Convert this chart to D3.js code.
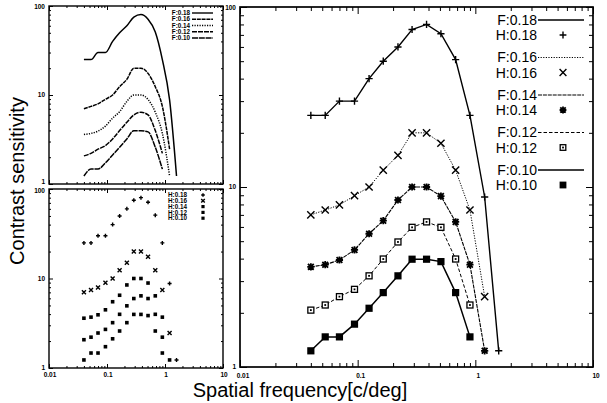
<!DOCTYPE html>
<html>
<head>
<meta charset="utf-8">
<script src="https://cdn.jsdelivr.net/npm/d3@7"></script>
<style>
  body { margin: 0; background: #fff; }
  svg { display: block; }
  text { font-family: "Liberation Sans", Arial, sans-serif; fill: #000; }
</style>
</head>
<body>
<svg width="607" height="403"></svg>
<script>
// spatial frequency samples [c/deg]
const freq = [0.04, 0.053, 0.07, 0.094, 0.125, 0.165, 0.22, 0.29, 0.385, 0.51, 0.68, 0.9, 1.2, 1.58];

// contrast sensitivity per condition (same values for F lines and H points)
const sens18 = [25, 25, 30, 30, 40, 50, 60, 75, 80, 71, 51, 25, 8.8, 1.23];
const sens16 = [7, 7.45, 7.95, 8.95, 10, 12.4, 15, 20, 20, 17.5, 12.4, 7.45, 2.46];
const sens14 = [3.6, 3.7, 3.93, 4.47, 5.5, 6.5, 8.47, 10, 10, 8.9, 6.4, 3.7, 1.23];
const sens12 = [2.07, 2.21, 2.46, 2.7, 3.21, 3.98, 4.95, 5.97, 6.4, 5.97, 3.98, 2.21];
const sens10 = [1.23, 1.47, 1.47, 1.73, 2.12, 2.59, 3.21, 3.97, 3.97, 3.85, 2.59, 1.47];

const levels = ["0.18", "0.16", "0.14", "0.12", "0.10"];
const xTickLabels = ["0.01", "0.1", "1", "10"];
const yTickLabels = ["1", "10", "100"];

const seriesValues = [sens18, sens16, sens14, sens12, sens10];
const series = levels.map((lv, i) => ({
  level: lv,
  points: seriesValues[i].map((v, j) => ({ f: freq[j], s: v }))
}));

const xDecades = xTickLabels.map(Number);
const yDecades = yTickLabels.map(Number);
const minorOf = dec => dec.slice(0, -1).flatMap(d => d3.range(2, 10).map(k => d * k));

// line styles and marker kinds, one per level
const dashes = [null, "1.2,1.4", "4,0.9", "3.5,2", null];
const widths = [1.4, 1, 1.1, 1, 1.5];
const smallDashes = [null, "4,0.8", "1.2,1.3", "5,1", "6,0.8"];
const markers = ["plus", "cross", "star", "boxdot", "square"];

const svg = d3.select("svg");

function marker(g, kind, cx, cy, r) {
  const p = d3.path();
  if (kind === "plus" || kind === "star") {
    p.moveTo(cx - r, cy); p.lineTo(cx + r, cy);
    p.moveTo(cx, cy - r); p.lineTo(cx, cy + r);
  }
  if (kind === "cross" || kind === "star") {
    const q = kind === "star" ? r * 0.8 : r;
    p.moveTo(cx - q, cy - q); p.lineTo(cx + q, cy + q);
    p.moveTo(cx - q, cy + q); p.lineTo(cx + q, cy - q);
  }
  if (kind === "plus" || kind === "cross" || kind === "star") {
    g.append("path").attr("d", p.toString()).attr("stroke", "#000")
      .attr("stroke-width", kind === "star" ? 1.8 : 1.4).attr("fill", "none");
    if (kind === "star") g.append("rect").attr("x", cx - r * 0.45).attr("y", cy - r * 0.45)
      .attr("width", r * 0.9).attr("height", r * 0.9).attr("fill", "#000");
  } else if (kind === "boxdot") {
    g.append("rect").attr("x", cx - r + 0.6).attr("y", cy - r + 0.6)
      .attr("width", 2 * r - 1.2).attr("height", 2 * r - 1.2)
      .attr("fill", "#fff").attr("stroke", "#000").attr("stroke-width", 1.3);
    g.append("rect").attr("x", cx - 0.9).attr("y", cy - 0.9).attr("width", 1.8).attr("height", 1.8).attr("fill", "#000");
  } else {
    g.append("rect").attr("x", cx - r).attr("y", cy - r).attr("width", 2 * r).attr("height", 2 * r).attr("fill", "#000");
  }
}

// log-log frame with inward ticks on all four sides
function frame(x, y, major, minor, sw) {
  const g = svg.append("g");
  const [x0, x1] = x.range(), [y0, y1] = y.range();
  const strip = s => s.call(a => a.select(".domain").remove()).call(a => a.selectAll("text").remove());
  const put = (axis, tx, ty, vals, len) => g.append("g")
    .attr("transform", `translate(${tx},${ty})`)
    .call(axis.tickValues(vals).tickSize(-len).tickFormat(""))
    .call(strip)
    .selectAll("line").attr("stroke", "#000").attr("stroke-width", 1);
  [[xDecades, major], [minorOf(xDecades), minor]].forEach(([v, l]) => {
    put(d3.axisBottom(x), 0, y0, v, l);
    put(d3.axisTop(x), 0, y1, v, l);
  });
  [[yDecades, major], [minorOf(yDecades), minor]].forEach(([v, l]) => {
    put(d3.axisLeft(y), x0, 0, v, l);
    put(d3.axisRight(y), x1, 0, v, l);
  });
  g.append("rect").attr("x", x0).attr("y", y1).attr("width", x1 - x0).attr("height", y0 - y1)
    .attr("fill", "none").attr("stroke", "#000").attr("stroke-width", sw);
  return g;
}

function yLabels(x, y, dx, shift) {
  svg.append("g").attr("transform", `translate(${x.range()[0] - dx},0)`)
    .selectAll("text").data(yDecades).join("text")
    .attr("y", d => y(d) + (shift[yDecades.indexOf(d)] || 0)).attr("dy", "0.35em").attr("text-anchor", "end")
    .attr("font-size", 6.5).attr("font-weight", "bold")
    .text((d, i) => yTickLabels[i]);
}

function xLabels(x, ty, dx) {
  svg.append("g").selectAll("text").data(xDecades).join("text")
    .attr("x", d => x(d) + dx).attr("y", ty).attr("text-anchor", "middle")
    .attr("font-size", 6.5).attr("font-weight", "bold")
    .text((d, i) => xTickLabels[i]);
}

const line = (x, y, curve) => d3.line().x(d => x(d.f)).y(d => y(d.s)).curve(curve);

// ---- left panels ----
const xs = d3.scaleLog().domain([0.01, 10]).range([49, 223]);
const yTop = d3.scaleLog().domain([1, 100]).range([184, 6]);
const yBot = d3.scaleLog().domain([1, 100]).range([368, 189]);

frame(xs, yTop, 4, 2, 1.4);
frame(xs, yBot, 4, 2, 1.4);
yLabels(xs, yTop, 4, [-2.5, 0, 1]);
yLabels(xs, yBot, 4, [0, 0, 1.5]);
xLabels(xs, 376.5, 1);

series.forEach((s, i) => {
  svg.append("path").datum(s.points)
    .attr("d", line(xs, yTop, d3.curveMonotoneX))
    .attr("fill", "none").attr("stroke", "#000")
    .attr("stroke-width", 1.5)
    .attr("stroke-dasharray", smallDashes[i]);
});

// small legend, top panel
series.forEach((s, i) => {
  const cy = 13 + i * 6.25;
  svg.append("text").attr("x", 190).attr("y", cy).attr("dy", "0.35em")
    .attr("text-anchor", "end").attr("font-size", 6.3).attr("font-weight", "bold")
    .text("F:" + s.level);
  svg.append("line").attr("x1", 192).attr("x2", 213).attr("y1", cy).attr("y2", cy)
    .attr("stroke", "#000").attr("stroke-width", 1.4).attr("stroke-dasharray", smallDashes[i]);
});

// small markers, bottom panel
const smallKind = k => (k === "boxdot" || k === "star") ? "square" : k;
series.forEach((s, i) => {
  const g = svg.append("g");
  s.points.forEach(p => marker(g, smallKind(markers[i]), xs(p.f), yBot(p.s), i >= 2 ? 1.8 : 2));
});
series.forEach((s, i) => {
  const cy = 195 + i * 5.8;
  svg.append("text").attr("x", 168).attr("y", cy).attr("dy", "0.35em")
    .attr("font-size", 6.3).attr("font-weight", "bold")
    .text("H:" + s.level);
  marker(svg.append("g"), smallKind(markers[i]), 203, cy, i >= 2 ? 1.6 : 1.8);
});

// ---- main panel ----
const x = d3.scaleLog().domain([0.01, 10]).range([240, 593]);
const y = d3.scaleLog().domain([1, 100]).range([367, 7]);

frame(x, y, 7, 4, 1.7);
yLabels(x, y, 4, [0, 0, 1]);
xLabels(x, 377.5, 3);

series.forEach((s, i) => {
  svg.append("path").datum(s.points)
    .attr("d", line(x, y, d3.curveLinear))
    .attr("fill", "none").attr("stroke", "#000")
    .attr("stroke-width", widths[i])
    .attr("stroke-dasharray", dashes[i]);
});
series.forEach((s, i) => {
  const g = svg.append("g");
  s.points.forEach(p => marker(g, markers[i], x(p.f), y(p.s), 3.6));
});

// main legend
series.forEach((s, i) => {
  const cy = 20 + i * 37.5;
  svg.append("text").attr("x", 537).attr("y", cy - 0.4).attr("dy", "0.36em")
    .attr("text-anchor", "end").attr("font-size", 14).text("F:" + s.level);
  svg.append("line").attr("x1", 538).attr("x2", 584).attr("y1", cy).attr("y2", cy)
    .attr("stroke", "#000").attr("stroke-width", widths[i]).attr("stroke-dasharray", dashes[i]);
  svg.append("text").attr("x", 537).attr("y", cy + 15.4).attr("dy", "0.36em")
    .attr("text-anchor", "end").attr("font-size", 14).text("H:" + s.level);
  marker(svg.append("g"), markers[i], 563, cy + 15, 3.4);
});

// axis titles
svg.append("text").attr("x", 300).attr("y", 396.5).attr("text-anchor", "middle")
  .attr("font-size", 20).text("Spatial frequency[c/deg]");
svg.append("text").attr("transform", "translate(24,181) rotate(-90)")
  .attr("text-anchor", "middle").attr("font-size", 20).text("Contrast sensitivity");
</script>
</body>
</html>
